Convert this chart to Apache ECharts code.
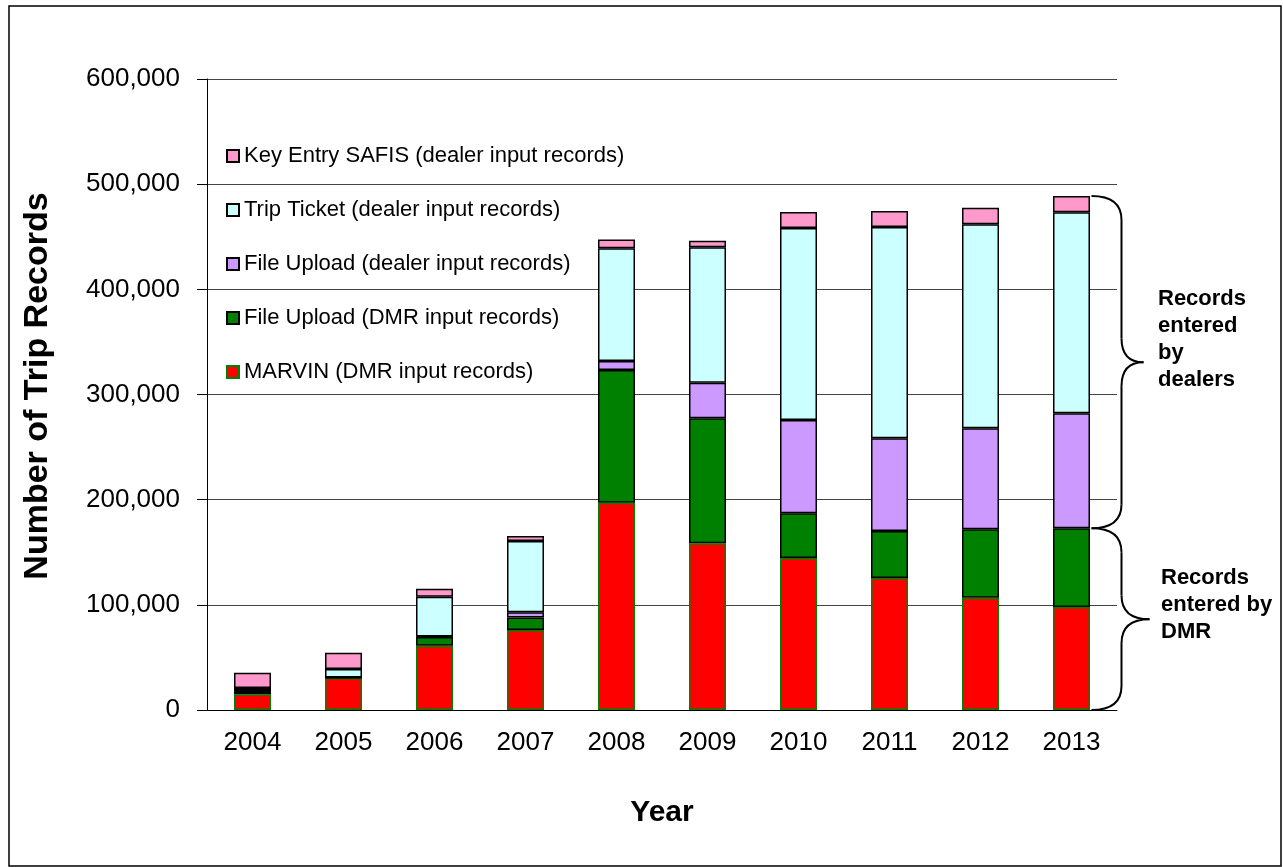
<!DOCTYPE html>
<html>
<head>
<meta charset="utf-8">
<script src="https://cdn.jsdelivr.net/npm/echarts@6/dist/echarts.min.js"></script>
<style>
  * { margin: 0; padding: 0; }
  html, body { background: #fff; }
</style>
</head>
<body>
<div id="main" style="width:1283px;height:867px;"></div>
<script>
// 数据
var years = ['2004', '2005', '2006', '2007', '2008', '2009', '2010', '2011', '2012', '2013'];
var marvin = [15000, 30500, 61000, 76000, 197000, 158500, 144500, 125500, 106800, 98000];
var dmrUpload = [2500, 500, 8300, 12000, 126300, 118900, 42500, 44700, 65000, 74800];
var dealerUpload = [500, 0, 500, 5000, 8500, 33800, 88800, 88100, 96100, 109300];
var tripTicket = [3000, 8000, 38000, 67700, 107200, 128800, 182500, 201000, 193900, 191100];
var keyEntry = [14500, 15500, 7600, 4800, 8500, 6300, 15200, 15200, 15800, 15500];
var yTicks = [0, 100000, 200000, 300000, 400000, 500000, 600000];

var names = [
    'MARVIN (DMR input records)',
    'File Upload (DMR input records)',
    'File Upload (dealer input records)',
    'Trip Ticket (dealer input records)',
    'Key Entry SAFIS (dealer input records)'
];
var font = 'Arial, "Liberation Sans", sans-serif';

function bar(name, data, color, border) {
    return {
        name: name,
        type: 'bar',
        stack: 'all',
        barWidth: 37,
        data: data,
        itemStyle: { color: color, borderColor: border, borderWidth: 1.5 },
        emphasis: { disabled: true }
    };
}

var chart = echarts.init(document.getElementById('main'));
chart.setOption({
    animation: false,
    backgroundColor: '#fff',
    grid: { left: 207, right: 166, top: 79, bottom: 157 },
    legend: {
        orient: 'vertical',
        left: 221,
        top: 140,
        itemWidth: 12,
        itemHeight: 12,
        itemGap: 32,
        icon: 'rect',
        selectedMode: false,
        data: [names[4], names[3], names[2], names[1], names[0]],
        textStyle: { fontSize: 22, lineHeight: 22, color: '#000', fontFamily: font }
    },
    xAxis: {
        type: 'category',
        data: years,
        axisLine: { lineStyle: { color: '#000', width: 1 } },
        axisTick: { length: 8, lineStyle: { color: '#000' } },
        axisLabel: { fontSize: 26, color: '#000', margin: 20, fontFamily: font },
        name: 'Year',
        nameLocation: 'middle',
        nameGap: 88,
        nameTextStyle: { fontSize: 30, fontWeight: 'bold', color: '#000', fontFamily: font }
    },
    yAxis: {
        type: 'value',
        min: yTicks[0],
        max: yTicks[yTicks.length - 1],
        interval: 100000,
        axisLine: { show: true, lineStyle: { color: '#000', width: 1 } },
        axisTick: { show: true, length: 10, lineStyle: { color: '#000' } },
        splitLine: { lineStyle: { color: '#444', width: 1 } },
        axisLabel: {
            fontSize: 26, color: '#000', margin: 27, fontFamily: font,
            formatter: function (v) { return v.toLocaleString('en-US'); }
        }
    },
    series: [
        bar(names[0], marvin, '#FF0000', '#008000'),
        bar(names[1], dmrUpload, '#008000', '#000'),
        bar(names[2], dealerUpload, '#CC99FF', '#000'),
        bar(names[3], tripTicket, '#CCFFFF', '#000'),
        bar(names[4], keyEntry, '#FF99CC', '#000')
    ]
});

// 右侧大括号
var last = years.length - 1;
var dmrTop = marvin[last] + dmrUpload[last];
var total = dmrTop + dealerUpload[last] + tripTicket[last] + keyEntry[last];
var pTop = chart.convertToPixel({ xAxisIndex: 0, yAxisIndex: 0 }, [last, total]);
var pMid = chart.convertToPixel({ xAxisIndex: 0, yAxisIndex: 0 }, [last, dmrTop]);
var pBot = chart.convertToPixel({ xAxisIndex: 0, yAxisIndex: 0 }, [last, 0]);
var x0 = pTop[0] + 20;
var lineStyle = { fill: 'none', stroke: '#000', lineWidth: 2 };

function curve(xa, ya, cx, cy, xb, yb) {
    return {
        type: 'bezierCurve', silent: true,
        shape: { x1: xa, y1: ya, cpx1: cx, cpy1: cy, x2: xb, y2: yb },
        style: lineStyle
    };
}
function seg(xa, ya, xb, yb) {
    return {
        type: 'line', silent: true,
        shape: { x1: xa, y1: ya, x2: xb, y2: yb },
        style: lineStyle
    };
}
function brace(y0, y1, d, tip) {
    var x1 = x0 + d, m = (y0 + y1) / 2, r = 24;
    return [
        curve(x0, y0, x1, y0, x1, y0 + r),
        seg(x1, y0 + r, x1, m - r),
        curve(x1, m - r, x1, m, x1 + tip, m),
        curve(x1 + tip, m, x1, m, x1, m + r),
        seg(x1, m + r, x1, y1 - r),
        curve(x1, y1 - r, x1, y1, x0, y1)
    ];
}

var graphics = [
    {
        type: 'rect', silent: true,
        shape: { x: 9, y: 6, width: 1272, height: 860 },
        style: { fill: 'none', stroke: '#000', lineWidth: 1.5 }
    },
    {
        type: 'text', silent: true, x: 38, y: 386, rotation: Math.PI / 2,
        style: {
            text: 'Number of Trip Records', font: 'bold 34px ' + font,
            fill: '#000', align: 'center', verticalAlign: 'middle'
        }
    },
    {
        type: 'text', silent: true, left: 1158, top: 285,
        style: {
            text: 'Records\nentered\nby\ndealers',
            font: 'bold 22px ' + font, lineHeight: 27, fill: '#000'
        }
    },
    {
        type: 'text', silent: true, left: 1161, top: 564,
        style: {
            text: 'Records\nentered by\nDMR',
            font: 'bold 22px ' + font, lineHeight: 27, fill: '#000'
        }
    }
];
graphics = graphics.concat(brace(pTop[1], pMid[1], 30, 22), brace(pMid[1], pBot[1], 30, 28));
chart.setOption({ graphic: graphics });
</script>
</body>
</html>
